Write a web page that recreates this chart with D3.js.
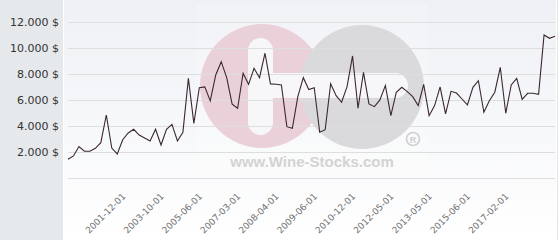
<!DOCTYPE html>
<html><head><meta charset="utf-8">
<script src="https://cdn.jsdelivr.net/npm/d3@7"></script>
<style>body{margin:0;background:#fff}svg{display:block}</style>
</head><body><div id="chart"></div>
<script>
const values = [1460,1720,2440,2080,2080,2310,2740,4870,2330,1870,
2970,3490,3770,3330,3100,2870,3770,2560,3770,4150,
2870,3540,7690,4230,6970,7030,5950,7950,8970,7740,
5700,5390,8080,7230,8460,7740,9620,7260,7230,7180,
3970,3850,6280,7740,6830,6970,3540,3740,7280,6360,
5850,7050,9410,5390,8150,5720,5510,6030,7130,4820,
6620,7000,6670,6280,5590,7230,4820,5590,7030,4950,
6690,6560,6100,5640,7000,7510,5080,5970,6620,8540,
5000,7180,7690,6080,6540,6540,6460,11030,10770,10920];
const tickIndex = [11,18,25,32,39,46,53,60,67,74,81];
const tickLabels = ["2001-12-01","2003-10-01","2005-06-01","2007-03-01","2008-04-01","2009-06-01","2010-12-01","2012-05-01","2013-05-01","2015-06-01","2017-02-01"];
const yTicks = [0,2000,4000,6000,8000,10000,12000];

const W=560,H=240;
const svg=d3.select("#chart").append("svg").attr("width",W).attr("height",H);
const defs=svg.append("defs");
const g=defs.append("linearGradient").attr("id","bg").attr("x1",0).attr("y1",0).attr("x2",0).attr("y2",1);
g.append("stop").attr("offset","0%").attr("stop-color","#eef0f5");
g.append("stop").attr("offset","100%").attr("stop-color","#ffffff");

svg.append("rect").attr("x",0).attr("y",0).attr("width",W).attr("height",H).attr("fill","#fff");
svg.append("rect").attr("x",0).attr("y",0).attr("width",63).attr("height",H).attr("fill","#e5e9ec");
svg.append("rect").attr("x",64).attr("y",0).attr("width",492).attr("height",H).attr("fill","url(#bg)");
svg.append("line").attr("x1",557.5).attr("x2",557.5).attr("y1",0).attr("y2",H).attr("stroke","#e4e4e4");

const x=d3.scalePoint().domain(d3.range(values.length)).range([68,555]);
const y=d3.scaleLinear().domain([0,12000]).range([178.3,22.3]);

// watermark
const wm=svg.append("g");
wm.append("rect").attr("x",197).attr("y",4).attr("width",230).attr("height",169).attr("fill","#ffffff").attr("opacity",0.2);
wm.append("circle").attr("cx",262).attr("cy",86).attr("r",62).attr("fill","#ead1d9");
wm.append("circle").attr("cx",362).attr("cy",87).attr("r",62).attr("fill","#dadadc");
wm.append("rect").attr("x",248).attr("y",38).attr("width",25).attr("height",97).attr("rx",12.5).attr("fill","#f7f7f9");
wm.append("rect").attr("x",255).attr("y",73).attr("width",153).attr("height",25).attr("rx",12.5).attr("fill","#f7f7f9");
wm.append("text").attr("x",312).attr("y",167).attr("text-anchor","middle")
  .attr("font-family","Liberation Sans, Arial, sans-serif").attr("font-weight","bold").attr("font-size",15)
  .attr("fill","#d3d3d3").text("www.Wine-Stocks.com");
wm.append("circle").attr("cx",413).attr("cy",139).attr("r",6.5).attr("fill","none").attr("stroke","#cfcfcf").attr("stroke-width",1.6);
wm.append("text").attr("x",413).attr("y",142.5).attr("text-anchor","middle")
  .attr("font-family","Liberation Sans, Arial, sans-serif").attr("font-weight","bold").attr("font-size",9)
  .attr("fill","#cfcfcf").text("R");

// gridlines
svg.append("g").selectAll("line").data(yTicks).join("line")
  .attr("x1",68).attr("x2",555).attr("y1",d=>Math.round(y(d))+0.5).attr("y2",d=>Math.round(y(d))+0.5)
  .attr("stroke","#dedede").attr("stroke-width",1);

const loc=d3.formatLocale({decimal:",",thousands:".",grouping:[3],currency:[""," $"]});
const fmt=loc.format(",.0f");
svg.append("g").selectAll("text").data(yTicks.filter(d=>d>0)).join("text")
  .attr("x",59).attr("y",d=>y(d)).attr("dy","0.35em").attr("text-anchor","end")
  .attr("font-family","DejaVu Sans, sans-serif").attr("font-size",11).attr("fill","#333")
  .text(d=>fmt(d)+" $");

// x labels
svg.append("g").selectAll("text").data(tickIndex).join("text")
  .attr("transform",d=>`translate(${x(d)-2},197) rotate(-45)`)
  .attr("text-anchor","end")
  .attr("font-family","DejaVu Sans, sans-serif").attr("font-size",9).attr("fill","#707070")
  .text((d,i)=>tickLabels[i]);

// line
svg.append("path").datum(values)
  .attr("d",d3.line().x((d,i)=>x(i)).y(d=>y(d)))
  .attr("fill","none").attr("stroke","#3b2730").attr("stroke-width",1.1);
</script></body></html>
